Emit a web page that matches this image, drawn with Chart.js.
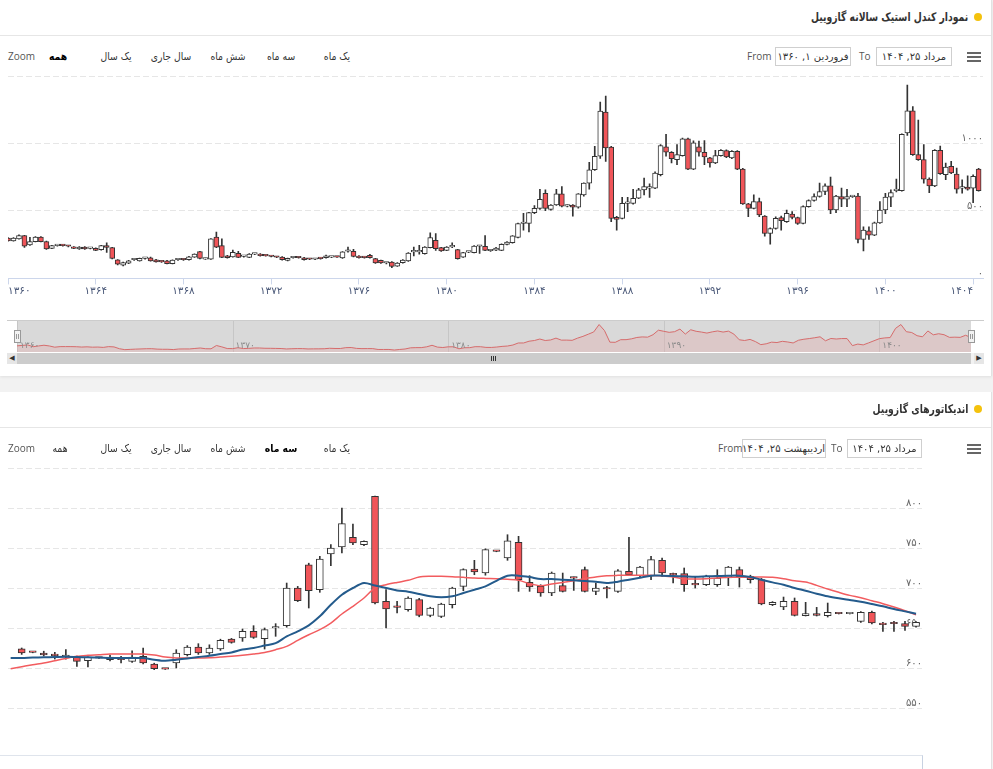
<!DOCTYPE html>
<html lang="fa">
<head>
<meta charset="utf-8">
<script src="https://cdn.jsdelivr.net/npm/chart.js@4.4.1/dist/chart.umd.min.js"></script>
<style>
  body { margin:0; width:993px; height:769px; overflow:hidden; background:#f2f2f2; position:relative; font-family:'DejaVu Sans', sans-serif; }
  .panel { position:absolute; left:0; width:991px; background:#fff; border-right:1px solid #e2e2e2; }
  .abs { position:absolute; }
  .title { position:absolute; right:25px; font-weight:bold; font-size:12px; color:#333; direction:rtl; white-space:nowrap; line-height:16px; transform:scaleX(0.77); transform-origin:right center; }
  .dot { position:absolute; left:974px; width:8px; height:8px; border-radius:50%; background:#f4c20d; }
  .hline { position:absolute; left:0; width:991px; height:1px; background:#e6e6e6; }
  .btn { position:absolute; font-size:10.5px; color:#333; transform:translateX(-50%) scaleX(0.88); white-space:nowrap; direction:rtl; line-height:14px; }
  .btn.sel { font-weight:bold; color:#000; }
  .lat { position:absolute; font:10px 'Open Sans', sans-serif; color:#555; line-height:14px; }
  .box { position:absolute; height:17px; border:1px solid #cfcfcf; background:#fff; font-size:10px; color:#333; text-align:center; line-height:17px; direction:rtl; white-space:nowrap; overflow:hidden; }
  .menu { position:absolute; left:967px; width:14px; height:2px; background:#666; box-shadow:0 4px 0 #666, 0 8px 0 #666; }
  canvas { position:absolute; left:0; }
  .handle { position:absolute; width:7px; height:13px; background:#f2f2f2; border:1px solid #999; box-sizing:border-box; }
  .handle::before, .handle::after { content:''; position:absolute; top:3px; width:1px; height:5px; background:#999; }
  .handle::before { left:1px; } .handle::after { left:3px; }
</style>
</head>
<body>
<div class="panel" style="top:0;height:376px;box-shadow:0 1px 3px rgba(0,0,0,0.08);"></div>
<div class="panel" style="top:392px;height:377px;"></div>

<!-- panel 1 header -->
<div class="dot" style="top:13px;"></div>
<div class="title" style="top:9px;">نمودار کندل استیک سالانه گازوییل</div>
<div class="hline" style="top:35px;"></div>
<div class="lat" style="left:8px;top:49px;">Zoom</div>
<div class="btn sel" style="left:58px;top:49px;">همه</div>
<div class="btn" style="left:116px;top:49px;">یک سال</div>
<div class="btn" style="left:171px;top:49px;">سال جاری</div>
<div class="btn" style="left:228px;top:49px;">شش ماه</div>
<div class="btn" style="left:281px;top:49px;">سه ماه</div>
<div class="btn" style="left:337px;top:49px;">یک ماه</div>
<div class="lat" style="left:747px;top:49px;">From</div>
<div class="box" style="left:775px;top:47px;width:74px;">فروردین ۱, ۱۳۶۰</div>
<div class="lat" style="left:859px;top:49px;">To</div>
<div class="box" style="left:876px;top:47px;width:74px;">مرداد ۲۵, ۱۴۰۴</div>
<div class="menu" style="top:52px;"></div>

<canvas id="yearChart" width="993" height="242" style="top:62px;"></canvas>

<!-- navigator -->
<div class="abs" style="left:7px;top:320px;width:977px;height:1px;background:#cccccc;"></div>
<canvas id="navChart" width="993" height="31" style="top:321px;"></canvas>
<div class="handle" style="left:14px;top:330px;"></div>
<div class="handle" style="left:968px;top:330px;"></div>
<div class="abs" style="left:7px;top:353px;width:977px;height:11px;background:#f2f2f2;"></div>
<div class="abs" style="left:7px;top:353px;width:10px;height:11px;background:#e6e6e6;font-size:7px;line-height:11px;text-align:center;color:#333;">◀</div>
<div class="abs" style="left:17px;top:353px;width:954px;height:11px;background:#cccccc;"></div>
<div class="abs" style="left:974px;top:353px;width:10px;height:11px;background:#e6e6e6;font-size:7px;line-height:11px;text-align:center;color:#333;">▶</div>
<div class="abs" style="left:491px;top:356px;width:1px;height:5px;background:#333;box-shadow:2px 0 0 #333, 4px 0 0 #333;"></div>

<!-- panel 2 header -->
<div class="dot" style="top:405px;"></div>
<div class="title" style="top:401px;">اندیکاتورهای گازوییل</div>
<div class="hline" style="top:427px;"></div>
<div class="lat" style="left:8px;top:441px;">Zoom</div>
<div class="btn" style="left:60px;top:441px;">همه</div>
<div class="btn" style="left:116px;top:441px;">یک سال</div>
<div class="btn" style="left:171px;top:441px;">سال جاری</div>
<div class="btn" style="left:228px;top:441px;">شش ماه</div>
<div class="btn sel" style="left:281px;top:441px;">سه ماه</div>
<div class="btn" style="left:337px;top:441px;">یک ماه</div>
<div class="lat" style="left:718px;top:441px;">From</div>
<div class="box" style="left:742px;top:439px;width:82px;">اردیبهشت ۲۵, ۱۴۰۴</div>
<div class="lat" style="left:831px;top:441px;">To</div>
<div class="box" style="left:847px;top:439px;width:73px;">مرداد ۲۵, ۱۴۰۴</div>
<div class="menu" style="top:444px;"></div>

<canvas id="dayChart" width="993" height="300" style="top:455px;"></canvas>
<div class="abs" style="left:0;top:755px;width:922px;height:20px;border-top:1px solid #dfe4ec;border-right:1px solid #c8d2e2;"></div>

<script>
// quarterly candles 1360..1404 : [open, high, low, close]
const yearCandles = [
  [298,302,275,278],[278,302,275,298],[293,322,290,318],[318,320,230,238],[248,305,245,273],
  [273,310,270,306],[306,310,270,273],[273,276,215,218],[223,246,220,243],[243,250,238,244],
  [244,250,238,243],[240,244,234,238],[233,236,220,223],[218,236,215,233],[233,236,215,218],
  [222,228,218,223],[223,226,205,208],[213,246,210,243],[243,263,193,230],[228,230,145,148],
  [138,140,100,106],[98,121,92,118],[113,133,110,130],[138,145,133,139],[130,151,128,148],
  [148,156,143,149],[153,158,127,130],[138,141,120,123],[124,130,118,123],[130,133,107,110],
  [110,138,107,135],[138,144,134,139],[139,144,134,138],[138,163,135,160],[158,183,156,180],
  [198,201,145,148],[143,150,140,144],[143,296,140,293],[306,343,228,231],[243,293,153,156],
  [168,171,150,153],[160,210,157,193],[186,200,153,156],[163,170,158,164],[156,184,153,181],
  [180,186,176,181],[181,184,165,168],[168,172,164,167],[163,167,159,162],[158,162,154,157],
  [158,161,135,138],[133,151,130,148],[153,160,150,154],[154,158,150,153],[153,156,135,138],
  [143,147,139,142],[142,147,139,143],[148,153,143,147],[153,172,150,168],[158,163,154,159],
  [159,163,155,158],[151,199,148,196],[201,233,195,202],[201,215,160,163],[166,169,150,153],
  [155,160,150,154],[171,178,150,153],[146,149,111,114],[133,136,111,114],[114,120,108,115],
  [121,124,80,89],[91,117,88,114],[116,139,113,136],[129,191,126,188],[196,233,166,197],
  [197,245,180,198],[183,236,180,233],[228,338,225,303],[283,333,208,221],[228,231,200,203],
  [208,236,205,233],[234,263,228,235],[213,216,143,146],[158,194,155,191],[195,200,190,196],
  [191,243,188,240],[238,245,186,239],[238,318,205,208],[205,212,200,206],[210,230,205,224],
  [208,256,205,253],[251,273,248,270],[265,318,262,315],[303,410,300,407],[407,482,358,408],
  [407,490,345,487],[487,540,480,519],[519,661,512,586],[631,656,502,519],[512,547,505,544],
  [544,661,540,626],[626,681,530,536],[536,545,530,537],[544,548,462,527],[527,629,520,626],
  [618,709,610,706],[706,860,661,805],[805,979,800,905],[905,1307,890,1240],[1233,1352,867,967],
  [974,978,420,444],[452,460,357,437],[444,601,440,556],[556,600,495,557],[556,661,550,594],
  [594,668,590,656],[656,743,619,681],[669,700,600,670],[669,790,665,781],[768,992,760,985],
  [975,1067,905,935],[935,940,855,888],[880,992,843,917],[910,1040,905,1034],[1034,1040,805,810],
  [810,1020,805,1004],[975,1017,905,935],[935,1022,843,900],[893,898,825,855],[855,950,850,910],
  [910,955,905,950],[947,952,895,900],[893,947,888,942],[942,947,805,810],[810,815,548,552],
  [552,556,457,519],[519,619,515,569],[569,595,457,470],[462,466,313,333],[333,375,253,370],
  [370,457,365,445],[450,462,358,427],[420,507,415,482],[477,495,440,452],[450,455,400,408],
  [408,537,403,532],[532,582,528,577],[577,627,572,607],[607,706,602,644],[644,701,620,686],
  [686,751,480,507],[507,615,487,611],[607,669,532,587],[587,661,532,607],[606,615,600,607],
  [611,631,263,288],[288,383,204,358],[353,383,288,321],[321,418,316,412],[412,569,408,507],
  [507,631,480,602],[602,656,532,636],[651,736,640,652],[651,1072,646,1067],[1079,1432,1060,1241],
  [1241,1273,912,917],[917,1174,875,880],[880,992,706,736],[736,745,636,686],[686,955,680,950],
  [950,980,771,776],[768,855,731,825],[830,868,776,781],[773,818,631,661],[669,731,631,670],
  [676,760,654,661],[669,768,562,756],[810,815,646,651]
];
const yearStart = 1360;
const yearTicks = [1360,1364,1368,1372,1376,1380,1384,1388,1392,1396,1400,1404];
const priceTicks = [0,500,1000,1500];
const navTicks = [1360,1370,1380,1390,1400];

// daily candles, last three months : [open, high, low, close]
const dayCandles = [
  [624.1,625,617,618.7],[619.6,620,619,619.5],[618.7,621,615,616.2],[615.5,619.6,611.2,615.4],
  [613.7,623,611,616.2],[613.7,615,602,608.3],[609.1,614,601.2,613.7],[612.5,613,612,612.4],
  [613.7,616,609,610.4],[610.4,614.6,606.2,610.3],[608.3,621.6,607,613.7],[614.6,625,605,606.2],
  [605,606,597.9,599.1],[598.7,599.2,598.2,598.6],[606.2,622.9,600,618.7],[616.6,628,615,626.2],
  [626.2,630.4,617,618.7],[618.7,629,617,625],[623.7,636,622,634.6],[636.2,637,631,632.1],
  [637.5,648.7,633.3,645.8],[645.8,652.9,637,638.3],[636.6,650,623.7,647.9],[650,655.4,639.6,650.1],
  [652.9,706.2,651,700],[700,702,683,684.2],[729.1,731,675,696.6],[697.9,739.6,694.6,736.2],
  [742.5,754.2,727.9,750],[751.2,800,743.7,780.4],[763.3,780,754.2,756.2],[754.2,759,753,758.3],
  [814.6,815,680,681.2],[683.3,697.9,650,673.7],[675.8,683.3,668.7,675.7],[672.9,689,671,687.5],
  [685.4,687,664,665.8],[665.8,676,664,675],[664.6,681,663,680],[679.1,701,675,700],
  [702,724,696.6,722.9],[723.7,734.6,716.6,720],[718.7,749,716,747.9],[745.8,746.3,745.3,745.7],
  [737.5,766.6,734.6,759.1],[757.1,764.6,695.8,710.4],[707.1,715.4,695.8,701.2],[702,704.1,689.6,693.7],
  [693.7,720,690.4,718.7],[702.9,718.7,695,695.8],[712.5,713.7,697,712.4],[722.9,726.2,695,695.8],
  [695.8,706.2,691.6,700],[700,702,687.5,698.7],[695.8,723,694.6,721.6],[720.8,763.3,716,716.6],
  [715.4,727,714,726.2],[715.4,739.6,710.4,735.4],[734.6,737.5,714.6,718.7],[716.6,718.7,706.2,716.5],
  [717.9,725,695.8,704.1],[704.1,714.6,700,704],[704.1,716,703,714.6],[704.1,722.9,702,712.5],
  [712.5,727,702.9,726.2],[722.9,726.2,701.2,713.7],[714.6,716,706.2,710.4],[710.4,712,679,680],
  [679.1,683,678,682.1],[676.2,688.7,672.9,683.3],[683.3,687.5,665,665.8],[665.4,682.1,665,667.9],
  [667.9,675.8,665,665.8],[665.4,681.2,663.7,669.6],[667.9,668.3,667.5,667.8],[667.8,668.3,667.5,667.9],
  [658.3,670.5,657,669.6],[669.6,671,655,656.2],[656.2,657,645.8,654.1],[655.4,658.3,645.8,655.3],
  [655.4,658.3,647,652.1],[652.1,658,651,657]
];
// indicator lines start one day before the first visible candle
const emaLine = [
  612.5,612.5,613,613.3,613.7,614,613.7,613.3,613,612.5,612.5,612.5,612.5,610.4,609,610.4,612,
  613.7,615.4,617.5,619.5,623,625,628,631,639.5,645.8,653.3,664.6,679,691.6,700,706.2,703,700,
  697,695.4,692.5,689.6,688.3,689.6,693.7,697.9,702,709,715.4,715.4,713.7,711.2,711.2,710.4,709.6,
  708.7,707.9,706.2,707.9,710.4,712.9,715.4,715.4,715,714.6,714.2,714.6,715,715.4,715.4,713.7,
  710.4,707,704.1,700,696.6,692.9,689.6,687.1,685,682.9,680,677.1,673.7,670.8,667.9
];
const smaLine = [
  599.1,601.6,604.1,606.2,609.1,612,614.6,615.8,616.6,617.5,617.5,617.5,617.5,616.2,613.7,612.5,
  612.5,612.5,612.9,613.7,614.6,615.8,617.5,619.5,622.9,627,634.5,641.6,647.9,656.2,667.5,677.1,
  687.5,700,704.1,707,709.6,713.7,714.6,714.6,714.2,713.3,712.5,712,711.6,710.8,709.6,705.4,702.9,
  705,707,709.1,712,713.7,715.4,715.8,715.8,715.8,715.8,715.4,713.7,711.6,711.2,711.6,712.5,713.3,
  713.3,713.7,713.7,713.3,711.6,709.1,707.5,703.3,698.7,694.6,690.8,687.9,684.1,680.4,676.2,671.6,666.6
];
const dayPriceTicks = [550,600,650,700,750,800,850];

const UP = '#ffffff', DOWN = '#f05559', EDGE = '#333333';
const faNum = n => String(n).replace(/\d/g, d => '۰۱۲۳۴۵۶۷۸۹'[d]);

Chart.defaults.font.family = "'DejaVu Sans', sans-serif";
Chart.defaults.animation = false;

function candleSets(rows, xs, bodyW) {
  return [
    {
      type: 'bar', order: 1, grouped: false, barThickness: bodyW, minBarLength: 1.5,
      data: rows.map((r, i) => ({x: xs[i], y: [r[0], r[3]]})),
      backgroundColor: rows.map(r => r[3] < r[0] ? DOWN : UP),
      borderColor: EDGE, borderWidth: 1, borderSkipped: false
    },
    {
      type: 'bar', order: 2, grouped: false, barThickness: 1,
      data: rows.map((r, i) => ({x: xs[i], y: [r[2], r[1]]})),
      backgroundColor: EDGE, borderWidth: 0
    }
  ];
}

const gridY = {color: '#e6e6e6', drawTicks: false};

// top chart - all years
const yearX = yearCandles.map((r, i) => yearStart + i / 4);

new Chart(document.querySelector('#yearChart'), {
  type: 'bar',
  data: {datasets: candleSets(yearCandles, yearX, 5)},
  options: {
    responsive: false, events: [],
    layout: {padding: {top: 14, left: 8, right: 10, bottom: 5}},
    plugins: {legend: {display: false}, tooltip: {enabled: false}},
    scales: {
      x: {
        type: 'linear', min: 1360, max: 1404.45, offset: false,
        afterBuildTicks: s => { s.ticks = yearTicks.map(v => ({value: v})); },
        ticks: {callback: v => faNum(v), color: '#4a5878', font: {size: 10.5}, padding: 1, align: 'inner', maxRotation: 0, autoSkip: false},
        grid: {drawOnChartArea: false, tickLength: 6, color: '#ccd6eb', offset: false},
        border: {color: '#ccd6eb'}
      },
      y: {
        position: 'right', min: 0, max: 1500,
        afterBuildTicks: s => { s.ticks = priceTicks.map(v => ({value: v})); },
        ticks: {mirror: true, padding: 0, labelOffset: -5, color: '#666', font: {size: 10}, callback: v => v === 1500 ? '' : faNum(v)},
        grid: gridY,
        border: {display: false, dash: [6, 3]}
      }
    }
  }
});

// navigator
const navDecor = {
  id: 'navDecor',
  beforeDatasetsDraw(chart) {
    const {ctx, chartArea: a, scales: {x}} = chart;
    ctx.save();
    ctx.fillStyle = '#d9d9d9';
    ctx.fillRect(a.left, a.top, a.right - a.left, a.bottom - a.top);
    ctx.strokeStyle = '#c6c6c6';
    ctx.lineWidth = 1;
    navTicks.forEach(v => {
      const px = Math.round(x.getPixelForValue(v)) + 0.5;
      ctx.beginPath(); ctx.moveTo(px, a.top); ctx.lineTo(px, a.bottom); ctx.stroke();
    });
    ctx.restore();
  },
  afterDatasetsDraw(chart) {
    const {ctx, chartArea: a, scales: {x}} = chart;
    ctx.save();
    ctx.fillStyle = '#8a8a8a';
    ctx.font = "9px 'DejaVu Sans'";
    ctx.textBaseline = 'bottom';
    navTicks.forEach(v => ctx.fillText(faNum(v), x.getPixelForValue(v) + 3, a.bottom - 2));
    ctx.restore();
  }
};

new Chart(document.querySelector('#navChart'), {
  type: 'line',
  data: {datasets: [{
    data: yearCandles.map((r, i) => ({x: yearX[i], y: r[3]})),
    borderColor: '#d66c6c', borderWidth: 1, pointRadius: 0, tension: 0,
    fill: 'origin', backgroundColor: 'rgba(226,170,170,0.35)'
  }]},
  options: {
    responsive: false, events: [],
    layout: {padding: {top: 0, left: 17, right: 22, bottom: 0}},
    plugins: {legend: {display: false}, tooltip: {enabled: false}},
    scales: {
      x: {type: 'linear', display: false, min: 1360, max: yearX[yearX.length - 1]},
      y: {display: false, min: 0, max: 1400}
    }
  },
  plugins: [navDecor]
});

// bottom chart - three months with indicators
const dayX = dayCandles.map((r, i) => i);

new Chart(document.querySelector('#dayChart'), {
  type: 'bar',
  data: {datasets: [
    {
      type: 'line', order: 0, label: 'EMA',
      data: emaLine.map((v, k) => ({x: k - 1, y: v})),
      borderColor: '#245b8c', borderWidth: 2, pointRadius: 0, tension: 0.3
    },
    {
      type: 'line', order: 0, label: 'SMA',
      data: smaLine.map((v, k) => ({x: k - 1, y: v})),
      borderColor: '#f25c5f', borderWidth: 1.5, pointRadius: 0, tension: 0.3
    },
    ...candleSets(dayCandles, dayX, 7)
  ]},
  options: {
    responsive: false, events: [],
    layout: {padding: {top: 13, left: 8, right: 71, bottom: 7}},
    plugins: {legend: {display: false}, tooltip: {enabled: false}},
    scales: {
      x: {type: 'linear', display: false, min: -1.24, max: 81.54, offset: false},
      y: {
        position: 'right', min: 500, max: 850,
        afterBuildTicks: s => { s.ticks = dayPriceTicks.map(v => ({value: v})); },
        ticks: {mirror: true, padding: 0, labelOffset: -5, color: '#666', font: {size: 10}, callback: v => v === 850 ? '' : faNum(v)},
        grid: gridY,
        border: {display: false, dash: [6, 3]}
      }
    }
  }
});
</script>
</body>
</html>
